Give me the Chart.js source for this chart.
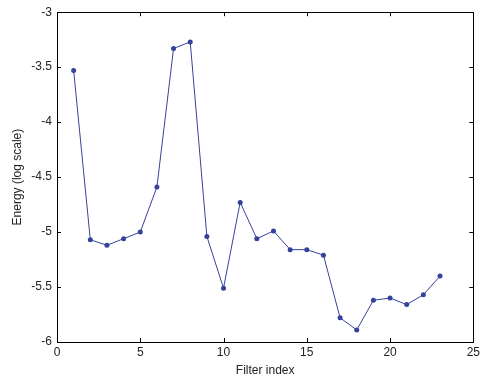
<!DOCTYPE html>
<html>
<head>
<meta charset="utf-8">
<script src="https://cdn.jsdelivr.net/npm/chart.js@4"></script>
<style>
  html, body { margin: 0; padding: 0; background: #fff; }
  #wrap { width: 483px; height: 378px; position: relative; }
</style>
</head>
<body>
<div id="wrap"><canvas id="energyChart"></canvas></div>
<script>
const filterIndex = [1, 2, 3, 4, 5, 6, 7, 8, 9, 10, 11, 12, 13, 14, 15, 16, 17, 18, 19, 20, 21, 22, 23];
const energyLog = [-3.53, -5.07, -5.12, -5.06, -5.00, -4.59, -3.33, -3.27, -5.04, -5.51, -4.73, -5.06, -4.99,
  -5.16, -5.16, -5.21, -5.78, -5.89, -5.62, -5.60, -5.66, -5.57, -5.40];
const xTicks = [0, 5, 10, 15, 20, 25];
const yTicks = [-6, -5.5, -5, -4.5, -4, -3.5, -3];

const lineColor = '#34429b';
const textColor = '#222';

// matlab-ish box with inward ticks on every side
const boxPlugin = {
  id: 'box',
  afterDraw(chart) {
    const { ctx, chartArea: a, scales } = chart;
    ctx.save();
    ctx.strokeStyle = '#000';
    ctx.lineWidth = 1;
    ctx.strokeRect(Math.round(a.left) + 0.5, Math.round(a.top) + 0.5,
      Math.round(a.right - a.left), Math.round(a.bottom - a.top));
    ctx.beginPath();
    const len = 4;
    xTicks.forEach(v => {
      const x = Math.round(scales.x.getPixelForValue(v)) + 0.5;
      ctx.moveTo(x, a.bottom); ctx.lineTo(x, a.bottom - len);
      ctx.moveTo(x, a.top); ctx.lineTo(x, a.top + len);
    });
    yTicks.forEach(v => {
      const y = Math.round(scales.y.getPixelForValue(v)) + 0.5;
      ctx.moveTo(a.left, y); ctx.lineTo(a.left + len, y);
      ctx.moveTo(a.right, y); ctx.lineTo(a.right - len, y);
    });
    ctx.stroke();
    ctx.restore();
  }
};

new Chart(document.getElementById('energyChart'), {
  type: 'line',
  data: {
    datasets: [{
      data: filterIndex.map((x, i) => ({ x, y: energyLog[i] })),
      borderColor: lineColor,
      backgroundColor: lineColor,
      borderWidth: 1,
      pointRadius: 2.5,
      pointHoverRadius: 2.5,
      pointBorderWidth: 0,
      tension: 0
    }]
  },
  options: {
    responsive: true,
    maintainAspectRatio: false,
    animation: false,
    events: [],
    layout: { padding: { top: 11, right: 7, left: 10, bottom: 0 } },
    plugins: { legend: { display: false }, tooltip: { enabled: false } },
    scales: {
      x: {
        type: 'linear',
        min: 0, max: 25,
        afterBuildTicks: s => { s.ticks = xTicks.map(v => ({ value: v })); },
        afterFit: s => { s.height = 36; },
        grid: { display: false, drawTicks: false },
        border: { display: false },
        ticks: { padding: 3, color: textColor, font: { family: 'Liberation Sans', size: 12 }, maxRotation: 0,
          callback: v => String(v) },
        title: { display: true, text: 'Filter index', color: textColor, padding: 0,
          font: { family: 'Liberation Sans', size: 12 } }
      },
      y: {
        min: -6, max: -3,
        afterBuildTicks: s => { s.ticks = yTicks.map(v => ({ value: v })); },
        afterFit: s => { s.width = 47; },
        grid: { display: false, drawTicks: false },
        border: { display: false },
        ticks: { padding: 5, color: textColor, font: { family: 'Liberation Sans', size: 12 },
          callback: v => String(v) },
        title: { display: true, text: 'Energy (log scale)', color: textColor, padding: 0,
          font: { family: 'Liberation Sans', size: 12 } }
      }
    }
  },
  plugins: [boxPlugin]
});
</script>
</body>
</html>
